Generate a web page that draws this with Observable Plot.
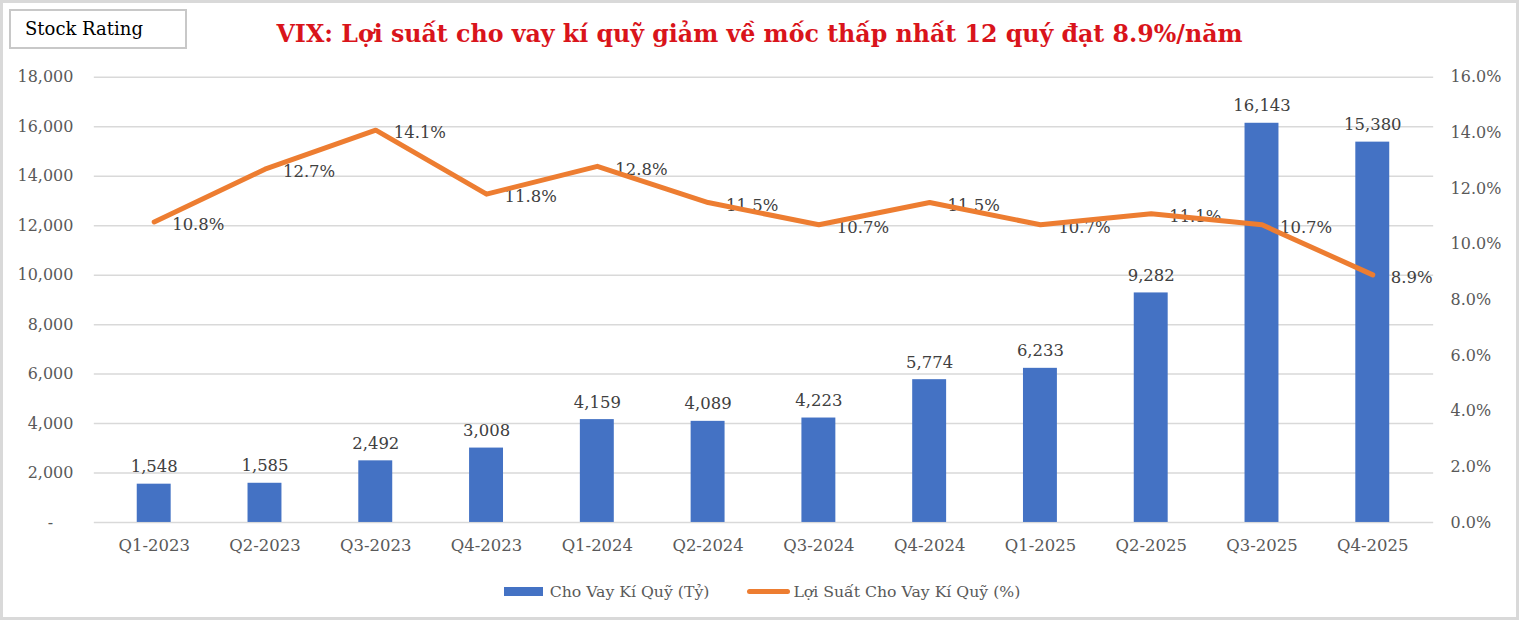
<!DOCTYPE html>
<html>
<head>
<meta charset="utf-8">
<script src="https://cdn.jsdelivr.net/npm/d3@7"></script>
<script src="https://cdn.jsdelivr.net/npm/@observablehq/plot@0.6"></script>
<style>
  html, body { margin: 0; padding: 0; background: #fff; }
  #wrap { position: relative; width: 1519px; height: 620px; box-sizing: border-box; border: 3px solid #d9d9d9; overflow: hidden; font-family: "DejaVu Serif", serif; }
  #chart { position: absolute; left: -3px; top: -3px; }
  #badge { position: absolute; left: 6px; top: 6px; width: 174px; height: 36px; border: 2px solid #c8c8c8; box-sizing: content-box; font-size: 18px; color: #000; line-height: 36px; }
  #badge span { position: absolute; left: 14px; top: 0; }
  #title { position: absolute; left: 0; width: 1513px; top: 17px; text-align: center; font-weight: bold; font-size: 23.7px; color: #d9141b; white-space: nowrap; }
  #legend { position: absolute; top: 574px; left: 2.5px; width: 1513px; font-size: 15.7px; color: #595959; display: flex; justify-content: center; align-items: center; height: 28px; }
  .sw-bar { width: 39px; height: 9px; background: #4472C4; margin-right: 7px; }
  .sw-line { width: 43px; height: 5px; border-radius: 3px; background: #ED7D31; margin-left: 38px; margin-right: 3px; }
</style>
</head>
<body>
<div id="wrap">
  <div id="chart"></div>
  <div id="badge"><span>Stock Rating</span></div>
  <div id="title">VIX: Lợi suất cho vay kí quỹ giảm về mốc thấp nhất 12 quý đạt 8.9%/năm</div>
  <div id="legend">
    <div class="sw-bar"></div>
    <div>Cho Vay Kí Quỹ (Tỷ)</div>
    <div class="sw-line"></div>
    <div>Lợi Suất Cho Vay Kí Quỹ (%)</div>
  </div>
</div>
<script>
const quarters = ["Q1-2023","Q2-2023","Q3-2023","Q4-2023","Q1-2024","Q2-2024","Q3-2024","Q4-2024","Q1-2025","Q2-2025","Q3-2025","Q4-2025"];
const marginLoans = [1548, 1585, 2492, 3008, 4159, 4089, 4223, 5774, 6233, 9282, 16143, 15380];
const marginRates = [10.8, 12.7, 14.1, 11.8, 12.8, 11.5, 10.7, 11.5, 10.7, 11.1, 10.7, 8.9];
const leftTicks = [0, 2000, 4000, 6000, 8000, 10000, 12000, 14000, 16000, 18000];
const rightTicks = [0, 2, 4, 6, 8, 10, 12, 14, 16];
const leftMax = 18000, rightMax = 16;

const data = quarters.map((q, i) => ({q, loan: marginLoans[i], rate: marginRates[i]}));
const toLeft = p => p / rightMax * leftMax;
const fmt = d3.format(",");
const gray = "#595959";

const plot = Plot.plot({
  width: 1519,
  height: 620,
  marginTop: 77,
  marginBottom: 97,
  marginLeft: 94,
  marginRight: 83,
  style: {fontFamily: "DejaVu Serif, serif", fontSize: "16px", color: gray, background: "transparent"},
  x: {domain: quarters, paddingInner: 0.69, paddingOuter: 0.345, label: null},
  y: {domain: [0, leftMax], label: null},
  marks: [
    Plot.gridY(leftTicks, {stroke: "#d9d9d9", strokeOpacity: 1, strokeWidth: 1.5}),
    Plot.barY(data, {x: "q", y: "loan", fill: "#4472C4"}),
    Plot.text(data, {x: "q", y: "loan", text: d => fmt(d.loan), lineAnchor: "bottom", dy: -12, fill: "#404040", fontSize: 16.5}),
    Plot.text(data, {x: "q", y: d => toLeft(d.rate), text: d => d.rate.toFixed(1) + "%", textAnchor: "start", dx: 18, dy: 3, fill: "#404040", fontSize: 16.5}),
    Plot.line(data, {x: "q", y: d => toLeft(d.rate), stroke: "#ED7D31", strokeWidth: 5, strokeLinejoin: "round", strokeLinecap: "round"}),
    Plot.axisY({ticks: leftTicks, tickSize: 0, tickPadding: 21, tickFormat: d => d === 0 ? "-\u00a0\u00a0\u00a0\u00a0" : fmt(d), label: null}),
    Plot.axisY({anchor: "right", ticks: rightTicks.map(toLeft), tickSize: 0, tickPadding: 17, tickFormat: d => (d / leftMax * rightMax).toFixed(1) + "%", label: null}),
    Plot.axisX({tickSize: 0, tickPadding: 17, label: null, fontSize: 16.5})
  ]
});
document.getElementById("chart").appendChild(plot);
</script>
</body>
</html>
